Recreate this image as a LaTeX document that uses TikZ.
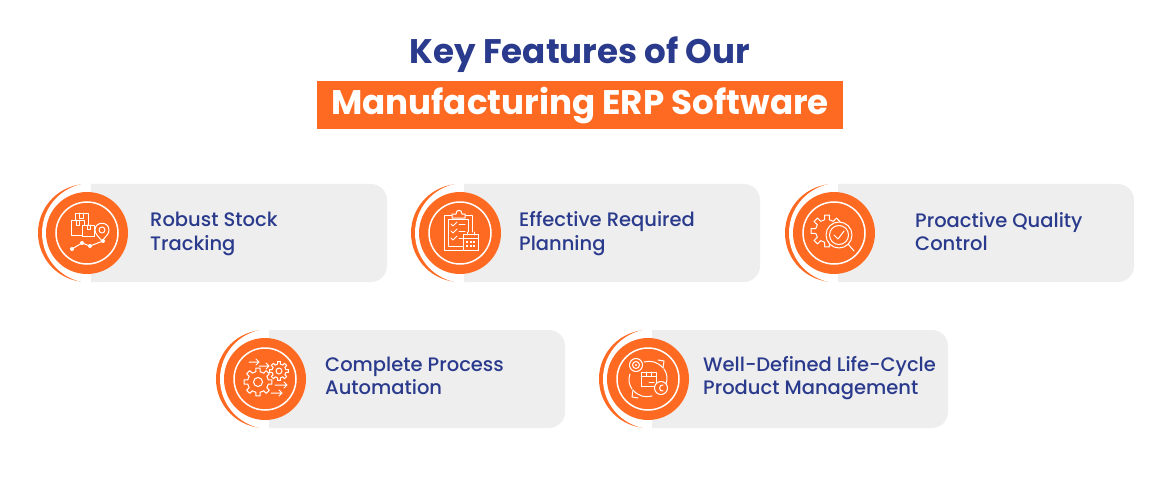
\documentclass[tikz,border=0pt]{standalone}
\usepackage{fontspec}
\setmainfont{Poppins}
\newfontfamily\titlefont{Poppins Bold}
\newfontfamily\cardfont{Poppins Medium}
\usepackage{xcolor}
\usetikzlibrary{calc,positioning}
\definecolor{brandorange}{HTML}{FF6A22}
\definecolor{brandnavy}{HTML}{2A3A8C}
\definecolor{cardgray}{HTML}{EEEEEE}
\tikzset{
  cardlabel/.style={
    anchor=west,
    align=left,
    inner sep=0pt,
    text=brandnavy,
    font=\cardfont\fontsize{19.5}{23.5}\selectfont},
  headline/.style={font=\titlefont\fontsize{34.1}{40}\selectfont},
  icon/.style={draw=white, line width=1pt, line join=round, line cap=round},
}
% one feature card: centre x, centre y, right edge
\newcommand{\featurecard}[3]{
  \fill[brandorange] (#1,#2) circle (49);
  \fill[white] (#1+5,#2) circle (50);
  \fill[cardgray] (#1+4,#2-49) [rounded corners=16] -- (#3,#2-49) -- (#3,#2+49)
    [sharp corners] -- (#1+4,#2+49) -- cycle;
  \fill[brandorange] (#1,#2) circle (41);
  \draw[white, line width=1.5pt] (#1,#2) circle (31);
}
% toothed wheel: centre, outer radius, inner radius, hole radius
\newcommand{\gearicon}[4]{
  \begin{scope}[shift={(#1)}]
    \draw[icon, fill=brandorange] (-12:#3)
      \foreach \a in {0,45,...,315} {
        -- (\a-12:#3) -- (\a-9:#2) -- (\a+9:#2) -- (\a+12:#3)
      } -- cycle;
    \draw[icon] (0,0) circle (#4);
  \end{scope}
}
\newcommand{\arrowicon}[3]{
  \draw[icon] (#1,#3) -- (#2,#3) (#2-3,#3-3) -- (#2,#3) -- (#2-3,#3+3);
}
\begin{document}
\begin{tikzpicture}[x=1pt,y=-1pt]
  \useasboundingbox (0,0) rectangle (1160,500);

  \node[headline, text=brandnavy] (title) at (580,55) {Key Features of Our};
  \fill[brandorange] (317,81) rectangle (843,129);
  \node[headline, text=white] (subtitle) at (580,105.5) {Manufacturing ERP Software};

  \featurecard{87}{233}{387}
  \featurecard{460}{233}{760}
  \featurecard{834}{233}{1134}
  \featurecard{265}{379}{565}
  \featurecard{648}{379}{948}

  \node[cardlabel] (stock) at (150,234) {Robust Stock\\Tracking};
  \node[cardlabel] (planning) at (519,233.5) {Effective Required\\Planning};
  \node[cardlabel] (quality) at (915,231.5) {Proactive Quality\\Control};
  \node[cardlabel] (automation) at (325,376) {Complete Process\\Automation};
  \node[cardlabel] (lifecycle) at (703,378) {Well-Defined Life-Cycle\\Product Management};

  % stock tracking
  \begin{scope}[shift={(87,233)}]
    \draw[icon] (-12,-20) rectangle (1,-8);
    \draw[icon, fill=brandorange] (-16,-13) rectangle (-3,2);
    \draw[icon, fill=brandorange] (-5,-8) rectangle (7,3);
    \draw[icon] (-8,-20) -- (-8,-15) -- (-4,-15) -- (-4,-20);
    \draw[icon] (-11,-13) -- (-11,-8) -- (-8,-8) -- (-8,-13);
    \draw[icon] (0,-8) -- (0,-4) -- (3,-4) -- (3,-8);
    \draw[icon, fill=brandorange] (15,8) .. controls (11,3) and (8,1) .. (8,-3)
      .. controls (8,-12) and (22,-12) .. (22,-3)
      .. controls (22,1) and (19,3) .. (15,8);
    \draw[icon] (15,-3) circle (3);
    \draw[icon] (-15,16) -- (-5,10) -- (3,13) -- (16,8);
    \foreach \p in {(-15,16),(-5,10),(3,13),(16,8)} {
      \fill[white] \p circle (2);
    }
  \end{scope}

  % requirement planning
  \begin{scope}[shift={(460,233)}]
    \draw[icon] (12,-1) -- (12,-18) -- (-16,-18) -- (-16,17) -- (3,17);
    \draw[icon] (8,-1) -- (8,-14) -- (-12,-14) -- (-12,13) -- (3,13);
    \draw[icon, fill=brandorange] (-8,-15) -- (-8,-19) -- (-4,-19)
      .. controls (-4,-24) and (2,-24) .. (2,-19) -- (5,-19) -- (5,-15) -- cycle;
    \foreach \y in {-9,-2,5} {
      \draw[icon] (-9,\y) -- (-7,\y+2) -- (-3,\y-2);
      \draw[icon] (-1,\y) -- (5,\y);
    }
    \draw[icon, fill=brandorange] (3,1) rectangle (18,17);
    \draw[icon] (3,5) -- (18,5);
    \draw[icon] (7,-1) -- (7,2) (14,-1) -- (14,2);
    \foreach \x in {7,10.5,14} {
      \foreach \y in {8.5,12.5} {
        \fill[white] (\x-1,\y-1) rectangle (\x+1,\y+1);
      }
    }
  \end{scope}

  % quality control
  \gearicon{827,231}{16}{11.5}{0}
  \begin{scope}[shift={(834,233)}]
    \draw[icon, fill=brandorange] (5,2) circle (13);
    \draw[icon] (5,2) circle (9.5);
    \draw[icon] (0,2) -- (4,6) -- (10,-2);
    \draw[icon] (14.5,11.5) -- (20,18);
  \end{scope}

  % process automation
  \gearicon{258,382}{14}{10.5}{4.5}
  \gearicon{279,371}{9.5}{7}{3}
  \arrowicon{249}{259}{362}
  \arrowicon{259}{269}{366}
  \arrowicon{275}{287}{385}
  \arrowicon{271}{282}{393}

  % product life cycle
  \begin{scope}[shift={(648,379)}]
    \draw[icon] (-4,-17) .. controls (3,-19) and (10,-17) .. (15,-11);
    \draw[icon] (10,-19) -- (16,-18) -- (15,-11);
    \draw[icon] (4,17) .. controls (-3,19) and (-10,17) .. (-15,11);
    \draw[icon] (-10,19) -- (-16,18) -- (-15,11);
    \draw[icon] (-18,-5) .. controls (-20,0) and (-19,6) .. (-16,10);
    \draw[icon] (18,5) .. controls (20,0) and (19,-6) .. (16,-10);
    \draw[icon, fill=brandorange] (-7,-7) rectangle (8,7);
    \draw[icon] (-7,-3) -- (8,-3) (-2,-7) -- (-2,-3) (3,-7) -- (3,-3);
    \draw[icon] (1,3) -- (6,3);
    \draw[icon, fill=brandorange] (-12,-14) circle (6.5);
    \draw[icon] (-12,-14) circle (3.5);
    \fill[white] (-12,-14) circle (1.2);
    \draw[icon, fill=brandorange] (13,9) circle (6.5);
    \draw[icon] (15,6) .. controls (11,5) and (10,13) .. (15,12);
  \end{scope}
\end{tikzpicture}
\end{document}
